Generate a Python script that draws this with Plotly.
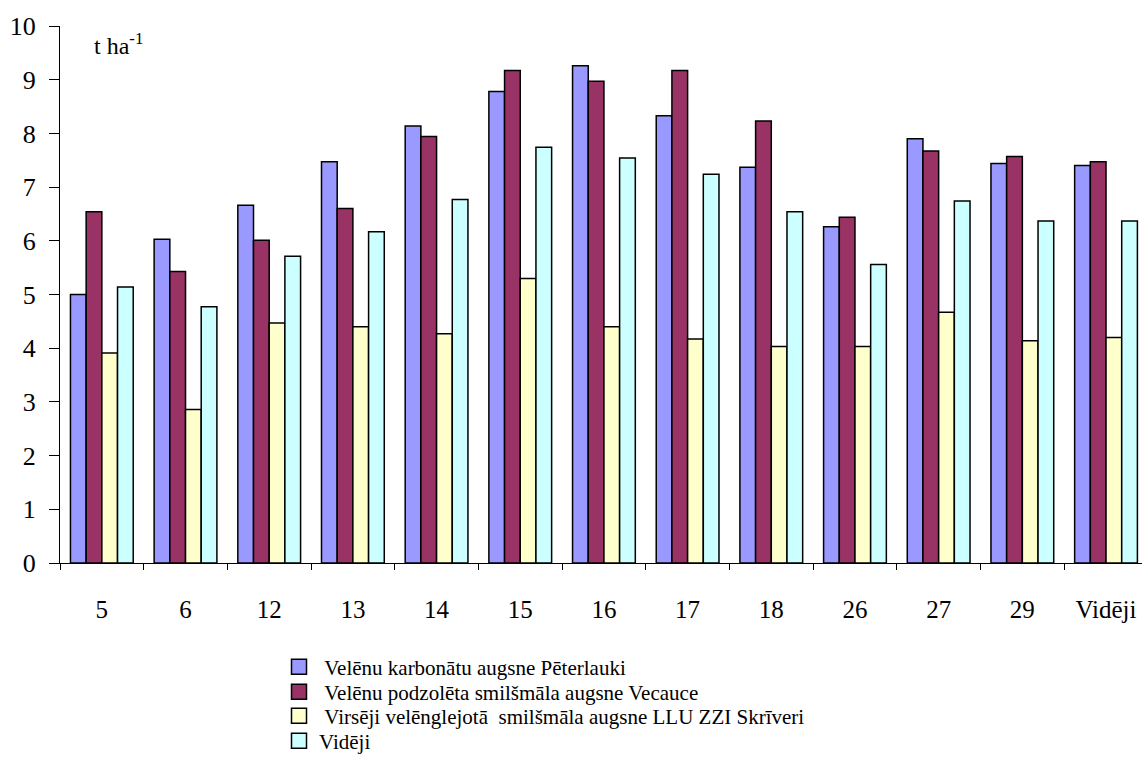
import plotly.graph_objects as go

categories = ["5", "6", "12", "13", "14", "15", "16", "17", "18", "26", "27", "29", "Vidēji"]

peterlauki = [5.00, 6.03, 6.66, 7.47, 8.14, 8.78, 9.26, 8.33, 7.37, 6.26, 7.90, 7.44, 7.40]
vecauce = [6.54, 5.43, 6.01, 6.60, 7.94, 9.17, 8.97, 9.17, 8.23, 6.44, 7.67, 7.57, 7.47]
skriveri = [3.91, 2.86, 4.47, 4.40, 4.27, 5.30, 4.40, 4.17, 4.03, 4.03, 4.67, 4.14, 4.20]
videji = [5.14, 4.77, 5.71, 6.17, 6.77, 7.74, 7.54, 7.24, 6.54, 5.56, 6.74, 6.37, 6.37]

NB = "\u00a0"
series = [
    (NB + "Velēnu karbonātu augsne Pēterlauki", peterlauki, "#9999FF"),
    (NB + "Velēnu podzolēta smilšmāla augsne Vecauce", vecauce, "#993366"),
    (NB + "Virsēji velēnglejotā  smilšmāla augsne LLU ZZI Skrīveri", skriveri, "#FFFFCC"),
    ("Vidēji", videji, "#CCFFFF"),
]

FONT = "Liberation Serif, Times New Roman, serif"

# each legend row gets its own legend box so the rows can sit close together
legend_names = ["legend", "legend2", "legend3", "legend4"]
legend_rows_y = [-0.1937, -0.2402, -0.2849, -0.3315]

fig = go.Figure()
for i, (name, vals, color) in enumerate(series):
    fig.add_trace(go.Bar(
        x=categories, y=vals, name=name.strip(NB),
        marker=dict(color=color, line=dict(color="black", width=1.5)),
        showlegend=False,
    ))
    # legend swatch
    fig.add_trace(go.Scatter(
        x=[None], y=[None], mode="markers", name=name,
        marker=dict(symbol="square", size=15, color=color,
                    line=dict(color="black", width=1.5)),
        legend=legend_names[i], showlegend=True, hoverinfo="skip",
    ))

legend_common = dict(
    x=0.2024, xanchor="left", yanchor="middle",
    font=dict(family=FONT, size=21, color="black"),
    itemwidth=30, bgcolor="rgba(0,0,0,0)", borderwidth=0,
)

layout_legends = {}
for nm, yy in zip(legend_names, legend_rows_y):
    layout_legends[nm] = dict(legend_common, y=yy)

fig.update_layout(
    width=1142, height=769,
    margin=dict(l=60, r=0, t=26, b=206, autoexpand=False),
    plot_bgcolor="white", paper_bgcolor="white",
    barmode="group", bargap=0.25, bargroupgap=0,
    font=dict(family=FONT, size=25, color="black"),
    showlegend=True,
    xaxis=dict(
        type="category", range=[-0.5, 12.43],
        showline=True, linecolor="black", linewidth=1,
        ticks="outside", tickson="boundaries", ticklen=6, tickcolor="black",
        showgrid=False, zeroline=False, tickangle=0,
        ticklabelstandoff=24,
        tickfont=dict(family=FONT, size=25),
    ),
    yaxis=dict(
        range=[0, 10], dtick=1,
        showline=True, linecolor="black", linewidth=1,
        ticks="outside", ticklen=10, tickcolor="black",
        showgrid=False, zeroline=False,
        ticklabelstandoff=8,
        tickfont=dict(family=FONT, size=26),
    ),
    annotations=[dict(
        text="t ha<sup>-1</sup>", xref="paper", yref="paper",
        x=0.0296, y=0.9665, xanchor="left", yanchor="middle", showarrow=False,
        font=dict(family=FONT, size=24, color="black"),
    )],
    **layout_legends,
)

fig.write_html("out.html")
